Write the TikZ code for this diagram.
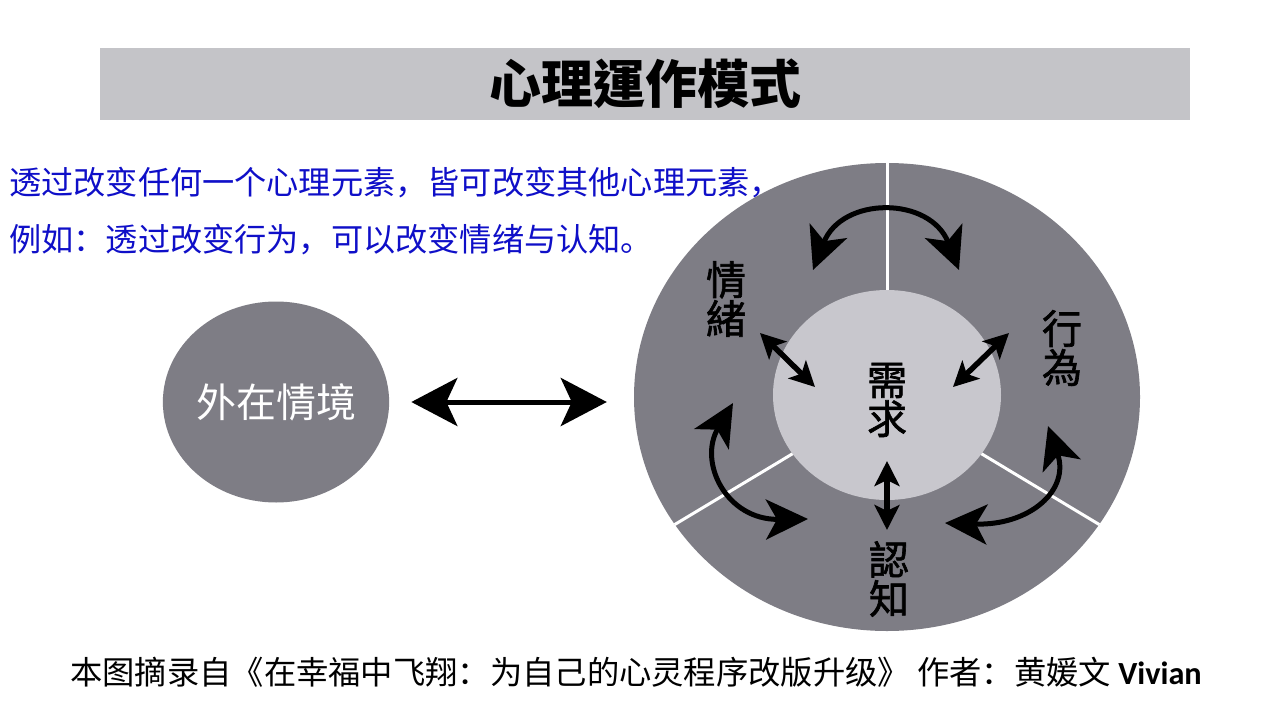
\documentclass[tikz,border=0pt]{standalone}
\usepackage{fontspec}
\usetikzlibrary{arrows.meta,shapes.geometric}
\newfontfamily\tcfont{Noto Sans CJK TC}
\newfontfamily\tcmed[FakeBold=1.6]{Noto Sans CJK TC}
\newfontfamily\scfont{Noto Sans CJK SC}
\newfontfamily\latfont{Carlito}
\definecolor{barc}{RGB}{196,196,200}
\definecolor{ringc}{RGB}{126,125,133}
\definecolor{corec}{RGB}{200,199,205}
\definecolor{bluetxt}{RGB}{15,15,200}
\tikzset{
  blob/.style={ellipse, fill=ringc, inner sep=0pt},
  lbl/.style={align=center, inner sep=0pt, text=black, font=\tcmed\fontsize{40}{39}\selectfont},
  divider/.style={draw=white, line width=3pt},
  smallarr/.style={line width=5.5pt, {Stealth[length=25pt,width=25pt,inset=6pt]}-{Stealth[length=25pt,width=25pt,inset=6pt]}},
  curvarr/.style={line width=5pt, {Stealth[length=42pt,width=40pt,inset=11pt]}-{Stealth[length=42pt,width=40pt,inset=11pt]}},
  bigarr/.style={line width=5pt, {Stealth[length=46pt,width=48pt,inset=11pt]}-{Stealth[length=46pt,width=48pt,inset=11pt]}},
  bluetext/.style={anchor=west, inner sep=0pt, text=bluetxt, font=\scfont\fontsize{32.2}{32}\selectfont}
}
\begin{document}
\begin{tikzpicture}[x=1pt,y=-1pt]
\fill[white] (0,0) rectangle (1280,720);
\useasboundingbox (0,0) rectangle (1280,720);
% title
\node[fill=barc, minimum width=1090pt, minimum height=72pt, inner sep=0pt,
      font=\tcfont\bfseries\fontsize{52}{52}\selectfont] (title) at (645,84) {心理運作模式};
% outer situation
\node[blob, minimum width=218pt, minimum height=201pt, text=white,
      font=\tcfont\fontsize{40}{40}\selectfont] (ext) at (276,402) {外在情境};
% big ring
\node[blob, minimum width=506pt, minimum height=468pt] (ring) at (887,397) {};
\draw[divider] (ring.center) -- (ring.north);
\draw[divider] (ring.center) -- (ring.211);
\draw[divider] (ring.center) -- (ring.329);
\node[ellipse, fill=corec, inner sep=0pt, minimum width=228pt, minimum height=210pt] (core) at (887,395) {};
\node[lbl] (need) at (887,400) {需\\求};
\node[lbl] (emo) at (726,299) {情\\緒};
\node[lbl] (act) at (1062,348) {行\\為};
\node[lbl] (cog) at (889,579) {認\\知};
% blue explanation
\node[bluetext] (line1) at (9,183) {透过改变任何一个心理元素，皆可改变其他心理元素，};
\node[bluetext] (line2) at (9,240) {例如：透过改变行为，可以改变情绪与认知。};
% big arrow
\draw[bigarr, shorten <=22pt, shorten >=27pt] (ext.east) -- (ext.east -| ring.west);
% straight arrows
\coordinate (e1) at (760,333); \coordinate (e2) at (815,387);
\coordinate (b1) at (1009,333); \coordinate (b2) at (953,387);
\coordinate (c1) at (887,461); \coordinate (c2) at (887,530);
\draw[smallarr] (e1) -- (e2);
\draw[smallarr] (b1) -- (b2);
\draw[smallarr] (c1) -- (c2);
% curved arrows
\coordinate (t1) at (813,270); \coordinate (t2) at (959,270);
\draw[curvarr] (t1) .. controls (842,196) and (930,196) .. (t2);
\coordinate (l1) at (733,403); \coordinate (l2) at (808,519);
\draw[curvarr] (l1) .. controls (698,462) and (726,520) .. (l2);
\coordinate (r1) at (1048,426); \coordinate (r2) at (945,523);
\draw[curvarr] (r1) .. controls (1070,490) and (1030,526) .. (r2);
% source line
\node[inner sep=0pt, font=\scfont\fontsize{32.3}{32}\selectfont] (src) at (636,672)
  {本图摘录自《在幸福中飞翔：为自己的心灵程序改版升级》 作者：黄媛文 {\latfont\bfseries Vivian}};
\end{tikzpicture}
\end{document}
